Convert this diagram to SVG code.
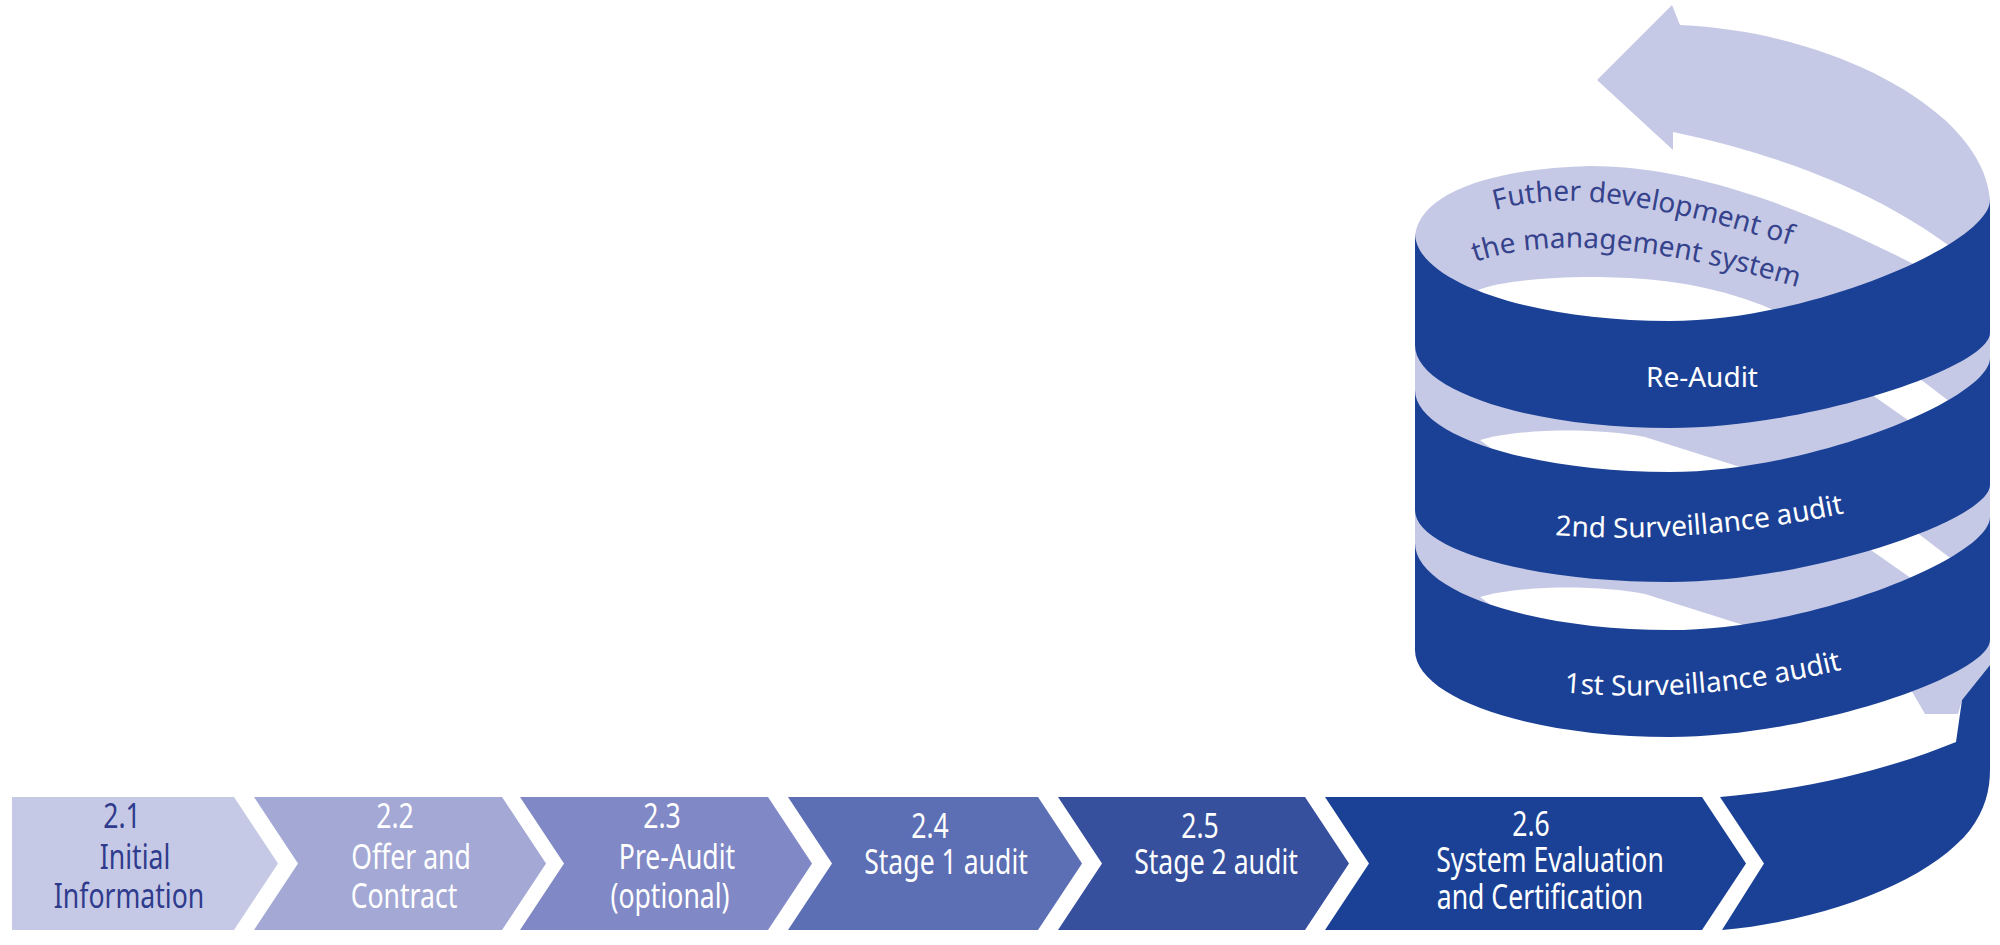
<svg xmlns="http://www.w3.org/2000/svg" width="2000" height="945" viewBox="0 0 2000 945">
<style>
.light{fill:#c6c9e5}
.dark{fill:#1b4196}
.white{fill:#ffffff}
.ct{font-family:"Noto Sans","Open Sans","Liberation Sans",sans-serif;font-size:35px;text-anchor:middle;fill:#ffffff}
.ct1{fill:#2f3b8d}
.st{font-family:"Noto Sans","Open Sans","Liberation Sans",sans-serif;font-size:28px;fill:#ffffff}
.cv{font-family:"Noto Sans","Open Sans","Liberation Sans",sans-serif;font-size:28px;fill:#35428c}
</style>
<defs>
<path id="p-futher" d="M1495,210 C1560,193 1640,196 1815,253"/>
<path id="p-mgmt" d="M1475,262 C1540,240 1640,238 1820,294"/>
<path id="p-2nd" d="M1550,535 C1620,540 1720,540 1850,512"/>
<path id="p-1st" d="M1558,692 C1630,698 1720,700 1848,668"/>
</defs>
<rect width="2000" height="945" fill="#ffffff"/>

<g id="spiral">
  <path id="arrow" class="light" d="M1597,80 L1672,5 L1680,25 C1790,30 1890,70 1945,120 C1975,148 1988,175 1990,200 L1990,255 L1955,250 C1905,212 1820,163 1673,132 L1673,150 Z"/>
  <path id="inner-body" class="light" d="M1415,236 C1420,190 1500,168 1590,166 C1700,166 1820,215 1925,270 L1990,200 L1990,620 L1900,670 L1700,700 L1530,680 L1415,600 Z"/>
  <path id="stripe-low" class="light" d="M1895,662 L1990,622 L1990,665 L1962,700 L1958,714 L1925,714 Z"/>
  <path class="white" d="M1478,290 C1520,274 1640,272 1705,288 C1740,296 1770,306 1795,322 L1700,340 L1520,318 Z"/>
  <path class="white" d="M1480,440 C1520,428 1600,428 1645,437 L1775,478 L1700,500 L1520,470 Z"/>
  <path class="white" d="M1858,385 L1903,366 L1962,411 L1925,432 Z"/>
  <path class="white" d="M1480,597 C1520,585 1600,585 1645,594 L1775,635 L1700,657 L1520,627 Z"/>
  <path class="white" d="M1858,541 L1903,522 L1962,567 L1925,588 Z"/>
  <path id="band-reaudit" class="dark" d="M1415,233 C1415,281.4 1530,321 1670,321 C1810,321 1990,243.6 1990,200 L1990,333 C1990,367.2 1810,428 1670,428 C1530,428 1415,390.7 1415,345 Z"/>
  <path id="band-2nd" class="dark" d="M1415,390 C1415,435.1 1530,472 1670,472 C1810,472 1990,399 1990,358 L1990,485 C1990,519.9 1810,582 1670,582 C1530,582 1415,549.6 1415,510 Z"/>
  <path id="band-1st" class="dark" d="M1415,543 C1415,590.9 1530,630 1670,630 C1810,630 1990,557.7 1990,517 L1990,640 C1990,675 1810,737 1670,737 C1530,737 1415,697.9 1415,650 Z"/>
  <path id="tail" class="dark" d="M1720,797 L1764,863.5 L1722,930 C1830,920 1930,880 1970,830 C1985,810 1990,790 1990,770 L1990,665 L1962,700 L1956,742 C1900,765 1820,788 1720,797 Z"/>
  <text class="cv"><textPath href="#p-futher">Futher development of</textPath></text>
  <text class="cv"><textPath href="#p-mgmt">the management system</textPath></text>
  <text class="st" x="1702" y="387" text-anchor="middle">Re-Audit</text>
  <text class="st" text-anchor="middle"><textPath href="#p-2nd" startOffset="50%">2nd Surveillance audit</textPath></text>
  <text class="st" text-anchor="middle"><textPath href="#p-1st" startOffset="50%">1st Surveillance audit</textPath></text>
</g>

<g id="step-2-1">
  <path fill="#c6c9e5" d="M12,797 L234,797 L278,863.5 L234,930 L12,930 Z"/>
  <g class="ct ct1">
    <text transform="translate(122,828) scale(0.76,1)">2.1</text>
    <text transform="translate(135,869) scale(0.76,1)">Initial</text>
    <text transform="translate(129,908) scale(0.76,1)">Information</text>
  </g>
</g>
<g id="step-2-2">
  <path fill="#a3a8d5" d="M254,797 L502,797 L546,863.5 L502,930 L254,930 L298,863.5 Z"/>
  <g class="ct">
    <text transform="translate(395,828) scale(0.76,1)">2.2</text>
    <text transform="translate(411,869) scale(0.76,1)">Offer and</text>
    <text transform="translate(404,908) scale(0.76,1)">Contract</text>
  </g>
</g>
<g id="step-2-3">
  <path fill="#8089c6" d="M520,797 L768,797 L812,863.5 L768,930 L520,930 L564,863.5 Z"/>
  <g class="ct">
    <text transform="translate(662,828) scale(0.76,1)">2.3</text>
    <text transform="translate(677,869) scale(0.76,1)">Pre-Audit</text>
    <text transform="translate(670,908) scale(0.76,1)">(optional)</text>
  </g>
</g>
<g id="step-2-4">
  <path fill="#5c6eb4" d="M788,797 L1038,797 L1082,863.5 L1038,930 L788,930 L832,863.5 Z"/>
  <g class="ct">
    <text transform="translate(930,838) scale(0.76,1)">2.4</text>
    <text transform="translate(946,874) scale(0.76,1)">Stage 1 audit</text>
  </g>
</g>
<g id="step-2-5">
  <path fill="#37509e" d="M1058,797 L1305,797 L1349,863.5 L1305,930 L1058,930 L1102,863.5 Z"/>
  <g class="ct">
    <text transform="translate(1200,838) scale(0.76,1)">2.5</text>
    <text transform="translate(1216,874) scale(0.76,1)">Stage 2 audit</text>
  </g>
</g>
<g id="step-2-6">
  <path fill="#1b4196" d="M1325,797 L1702,797 L1746,863.5 L1702,930 L1325,930 L1369,863.5 Z"/>
  <g class="ct">
    <text transform="translate(1531,836) scale(0.76,1)">2.6</text>
    <text transform="translate(1550,872) scale(0.76,1)">System Evaluation</text>
    <text transform="translate(1540,909) scale(0.76,1)">and Certification</text>
  </g>
</g>
</svg>
